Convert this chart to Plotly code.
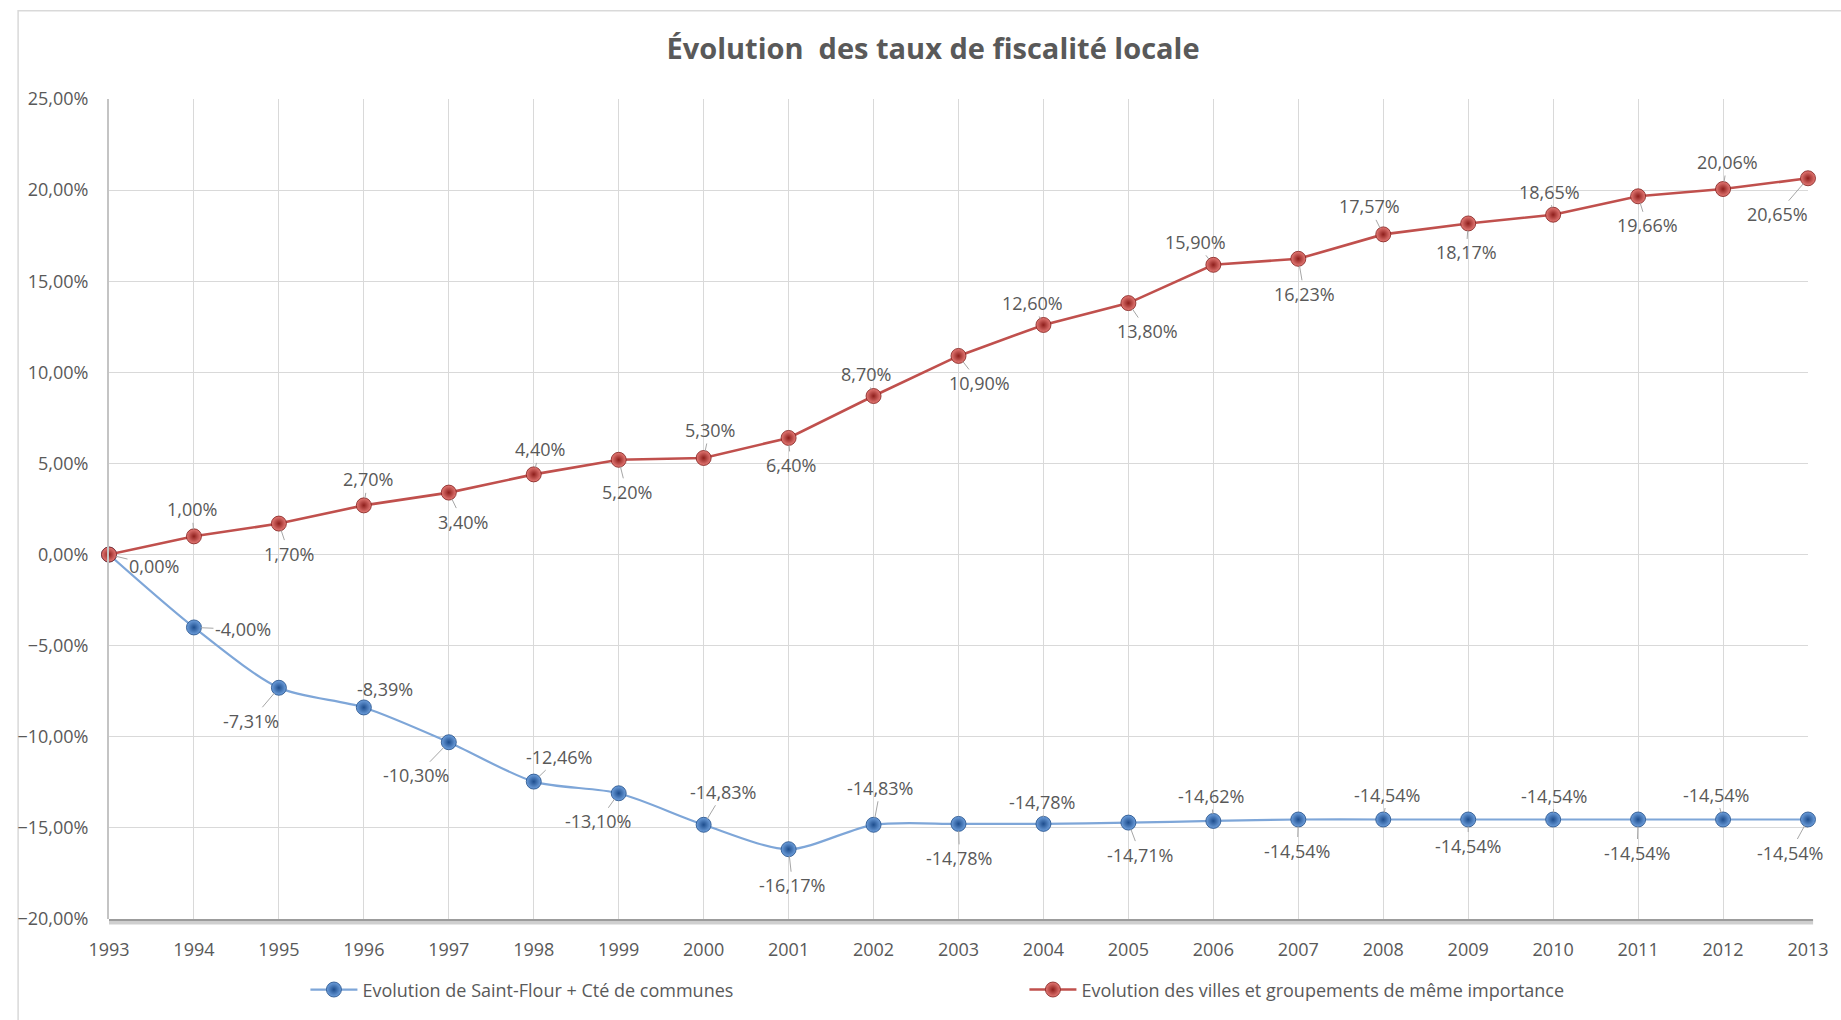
import plotly.graph_objects as go

# Années et évolutions cumulées (en %)
years = list(range(1993, 2014))
saint_flour = [0.00, -4.00, -7.31, -8.39, -10.30, -12.46, -13.10, -14.83, -16.17, -14.83,
               -14.78, -14.78, -14.71, -14.62, -14.54, -14.54, -14.54, -14.54, -14.54, -14.54, -14.54]
villes = [0.00, 1.00, 1.70, 2.70, 3.40, 4.40, 5.20, 5.30, 6.40, 8.70,
          10.90, 12.60, 13.80, 15.90, 16.23, 17.57, 18.17, 18.65, 19.66, 20.06, 20.65]

name_sf = "Evolution de Saint-Flour + Cté de communes"
name_villes = "Evolution des villes et groupements de même importance"
title = "Évolution\u00a0 des taux de fiscalité locale"

# Décalage (px) des étiquettes par rapport à leur point
villes_offsets = [(45, 11), (-2, -27), (10, 30), (4, -26), (14, 29), (6, -25), (8, 32), (6, -28),
                  (2, 27), (-8, -22), (21, 27), (-11, -22), (19, 28), (-18, -23), (6, 35),
                  (-14, -28), (-2, 29), (-4, -23), (9, 29), (4, -27), (-31, 36)]
sf_offsets = [None, (49, 2), (-28, 33), (21, -18), (-32, 33), (26, -25), (-20, 28), (20, -33),
              (4, 36), (7, -37), (1, 34), (-1, -22), (12, 32), (-2, -25), (-1, 31), (4, -25),
              (0, 26), (1, -24), (-1, 33), (-7, -25), (-18, 33)]

FONT = "Open Sans"
GREY_TXT = "#595959"


def fmt(v):
    return f"{v:.2f}".replace(".", ",") + "%"


fig = go.Figure()

fig.add_trace(go.Scatter(
    x=years, y=saint_flour, name=name_sf, mode="lines+markers",
    line=dict(color="#7EA6D8", width=2.2, shape="spline", smoothing=0.8),
    marker=dict(size=15, color="#6E9FDC", line=dict(color="#1F4C86", width=0.8),
                gradient=dict(type="radial", color="#1E4E8E")),
    cliponaxis=False,
))
fig.add_trace(go.Scatter(
    x=years, y=villes, name=name_villes, mode="lines+markers",
    line=dict(color="#C0504D", width=2.6),
    marker=dict(size=15, color="#E57A76", line=dict(color="#7F1D1B", width=0.8),
                gradient=dict(type="radial", color="#8E1F1C")),
    cliponaxis=False,
))

annotations = []
label_font = dict(family=FONT, size=18, color=GREY_TXT)
for yr, v, off in zip(years, villes, villes_offsets):
    annotations.append(dict(x=yr, y=v, xref="x", yref="y", text=fmt(v), showarrow=True,
                            arrowhead=0, arrowwidth=1, arrowcolor="#A6A6A6", standoff=7,
                            ax=off[0], ay=off[1], font=label_font))
for yr, v, off in zip(years, saint_flour, sf_offsets):
    if off is None:
        continue
    annotations.append(dict(x=yr, y=v, xref="x", yref="y", text=fmt(v), showarrow=True,
                            arrowhead=0, arrowwidth=1, arrowcolor="#A6A6A6", standoff=7,
                            ax=off[0], ay=off[1], font=label_font))

shapes = [
    # cadre du graphique
    dict(type="rect", xref="paper", yref="paper", x0=-0.0535, x1=1.2, y0=-0.5, y1=1.1075,
         line=dict(color="#D9D9D9", width=1.5), fillcolor="rgba(0,0,0,0)", layer="below"),
    # ombre de l'axe horizontal
    dict(type="rect", xref="paper", yref="paper", ysizemode="pixel", yanchor=0,
         x0=0, x1=1.003, y0=0, y1=-2.5, fillcolor="#9C9C9C", line=dict(width=0)),
    dict(type="rect", xref="paper", yref="paper", ysizemode="pixel", yanchor=0,
         x0=0, x1=1.003, y0=-2.5, y1=-5.5, fillcolor="#CFCFCF", line=dict(width=0)),
]

fig.update_layout(
    width=1841, height=1020,
    margin=dict(l=109, r=28, t=99, b=99),
    paper_bgcolor="white", plot_bgcolor="white",
    separators=", ",
    title=dict(text=f"<b>{title}</b>", x=933 / 1841, xanchor="center", xref="container",
               y=1 - 49 / 1020, yanchor="middle", yref="container",
               font=dict(family=FONT, size=29, color=GREY_TXT)),
    showlegend=True,
    legend=dict(orientation="h", x=(306 - 109) / 1704, xanchor="left",
                y=(921 - 992) / 822, yanchor="middle",
                itemwidth=47, entrywidth=657, entrywidthmode="pixels",
                font=dict(family=FONT, size=18, color=GREY_TXT), bgcolor="rgba(0,0,0,0)"),
    annotations=annotations,
    shapes=shapes,
    font=dict(family=FONT, color=GREY_TXT),
)

fig.update_xaxes(range=[1993, 2013], tickmode="array", tickvals=years,
                 ticktext=[str(y) for y in years], showgrid=True, gridcolor="#D9D9D9",
                 gridwidth=1, zeroline=False, showline=False,
                 ticks="outside", ticklen=14, tickcolor="rgba(0,0,0,0)",
                 tickfont=dict(family=FONT, size=18, color=GREY_TXT))
fig.update_yaxes(range=[-20, 25], dtick=5, tick0=0, tickformat=".2f", ticksuffix="%",
                 showgrid=True, gridcolor="#D9D9D9", gridwidth=1, zeroline=False,
                 showline=True, linecolor="#C4C4C4", linewidth=2,
                 ticks="outside", ticklen=15, tickcolor="rgba(0,0,0,0)",
                 tickfont=dict(family=FONT, size=18, color=GREY_TXT))

fig.write_html("out.html")
